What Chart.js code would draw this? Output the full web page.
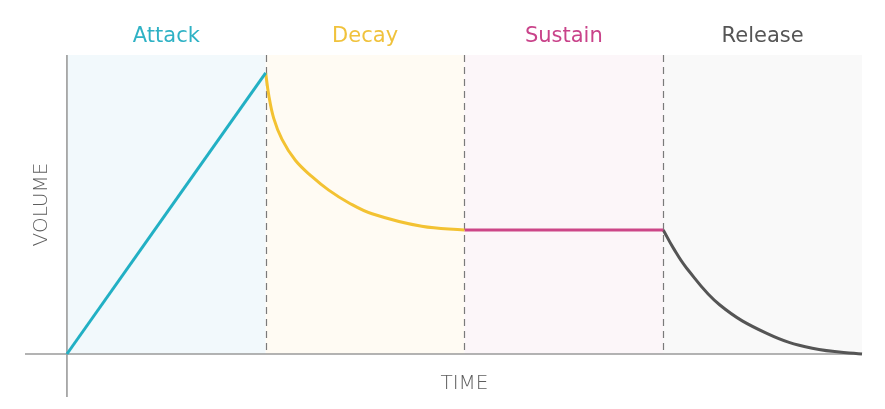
<!DOCTYPE html>
<html>
<head>
<meta charset="utf-8">
<script src="https://cdn.jsdelivr.net/npm/chart.js@4/dist/chart.umd.min.js"></script>
<style>
html,body{margin:0;padding:0;background:#fff;}
#wrap{width:885px;height:409px;position:relative;}
</style>
</head>
<body>
<div id="wrap"><canvas id="c" width="885" height="409"></canvas></div>
<script>
// Phase names and colours
const phases = ["Attack", "Decay", "Sustain", "Release"];
const phaseLineColors = ["#22b0c4", "#f3c232", "#cc4688", "#555555"];
const phaseLabelColors = ["#2fb2c5", "#f0c23c", "#c9438a", "#555555"];
const phaseBg = ["#f2f9fc", "#fffbf3", "#fcf6f9", "#f9f9f9"];
const phaseBounds = [0, 1, 2, 3, 4];

// Envelope values (time, volume)
const attackX = [0, 1];
const attackY = [0, 0.94];
const decayX = [1, 1.015, 1.04, 1.082, 1.149, 1.233, 1.317, 1.417, 1.535, 1.785, 2];
const decayY = [0.94, 0.867, 0.789, 0.718, 0.648, 0.593, 0.548, 0.506, 0.469, 0.427, 0.415];
const sustainX = [2, 3];
const sustainY = [0.415, 0.415];
const releaseX = [3, 3.051, 3.118, 3.285, 3.521, 3.75, 4];
const releaseY = [0.415, 0.354, 0.287, 0.164, 0.069, 0.019, 0];

const axisTitles = {x: "TIME", y: "VOLUME"};

function pts(xs, ys){ return xs.map((x,i)=>({x:x, y:ys[i]})); }

const series = [pts(attackX, attackY), pts(decayX, decayY), pts(sustainX, sustainY), pts(releaseX, releaseY)];

const decorPlugin = {
  id: 'decor',
  beforeDatasetsDraw(chart){
    const {ctx, chartArea, scales:{x, y}} = chart;
    const top = y.getPixelForValue(1);
    const base = y.getPixelForValue(0);
    ctx.save();
    // background bands
    for (let i=0;i<4;i++){
      const x0 = x.getPixelForValue(phaseBounds[i]);
      const x1 = x.getPixelForValue(phaseBounds[i+1]);
      ctx.fillStyle = phaseBg[i];
      ctx.fillRect(x0, top, x1-x0, base-top);
    }
    // dashed separators
    ctx.strokeStyle = "#7a7a7a";
    ctx.lineWidth = 1.2;
    ctx.setLineDash([7,5]);
    for (let i=1;i<4;i++){
      const px = Math.round(x.getPixelForValue(phaseBounds[i])) + 0.5;
      ctx.beginPath(); ctx.moveTo(px, top); ctx.lineTo(px, base); ctx.stroke();
    }
    ctx.setLineDash([]);
    // axes
    ctx.strokeStyle = "#9a9a9a";
    ctx.lineWidth = 1.6;
    const ox = x.getPixelForValue(0), oy = y.getPixelForValue(0);
    ctx.beginPath(); ctx.moveTo(chartArea.left, oy); ctx.lineTo(x.getPixelForValue(4), oy); ctx.stroke();
    ctx.beginPath(); ctx.moveTo(ox, top); ctx.lineTo(ox, chartArea.bottom); ctx.stroke();
    ctx.restore();
  },
  afterDraw(chart){
    const {ctx, scales:{x, y}} = chart;
    ctx.save();
    ctx.textAlign = "center";
    ctx.textBaseline = "middle";
    ctx.font = "400 21px 'DejaVu Sans'";
    for (let i=0;i<4;i++){
      const cx = x.getPixelForValue((phaseBounds[i]+phaseBounds[i+1])/2);
      ctx.fillStyle = phaseLabelColors[i];
      ctx.fillText(phases[i], cx, 37);
    }
    ctx.font = "200 20px 'DejaVu Sans'";
    ctx.fillStyle = "#5e5e5e";
    ctx.fillText(axisTitles.x, x.getPixelForValue(2), 384);
    ctx.translate(42, y.getPixelForValue(0.5));
    ctx.rotate(-Math.PI/2);
    ctx.fillText(axisTitles.y, 0, 0);
    ctx.restore();
  }
};

new Chart(document.getElementById('c'), {
  type: 'scatter',
  data: {
    datasets: series.map((d,i)=>({
      label: phases[i],
      data: d,
      showLine: true,
      borderColor: phaseLineColors[i],
      borderWidth: 3,
      pointRadius: 0,
      tension: 0.4,
      clip: false
    }))
  },
  options: {
    responsive: false,
    animation: false,
    devicePixelRatio: 1,
    layout: {padding: {left: 25, right: 23, top: 55, bottom: 12}},
    plugins: {legend: {display: false}, tooltip: {enabled: false}},
    scales: {
      x: {type: 'linear', display: false, min: -0.211, max: 4},
      y: {type: 'linear', display: false, min: -0.1438, max: 1}
    }
  },
  plugins: [decorPlugin]
});
</script>
</body>
</html>
